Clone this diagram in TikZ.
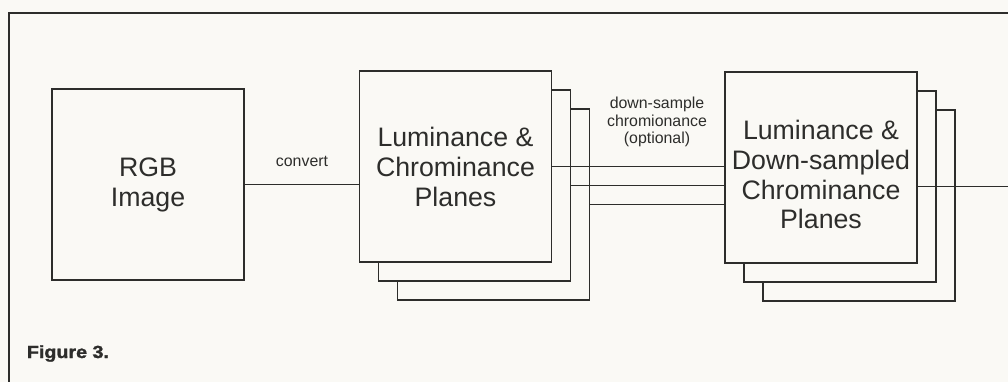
\documentclass[tikz,border=0pt]{standalone}
\usepackage{fontspec}
\setmainfont{Liberation Sans}
\newfontfamily\capfont[FakeBold=1.5]{Liberation Sans Bold}
\usetikzlibrary{calc}
\definecolor{paper}{RGB}{250,249,245}
\definecolor{ink}{RGB}{45,45,43}
\newcommand\planefont{\fontsize{19}{21.3}\selectfont}
\newcommand\labelfont{\fontsize{11.3}{12.6}\selectfont}

\begin{document}
\begin{tikzpicture}[x=0.025cm,y=-0.025cm,line width=1.3pt,draw=ink,
  plane/.style={draw=ink,fill=paper,minimum width=4.8cm,minimum height=4.78cm,
    inner sep=0pt,align=center,font=\planefont,text=ink},
  note/.style={align=center,font=\labelfont,text=ink}]
  \fill[paper] (0,0) rectangle (1008,382);
  \useasboundingbox (0,0) rectangle (1008,382);
  \draw[line width=1.5pt] (9,382) -- (9,13) -- (1008,13);
  % source image
  \node[plane] (rgb) at (148,184.5) {RGB\\Image};
  % stacked planes
  \node[plane] (lcC) at (493.5,204.5) {};
  \node[plane] (lcB) at (474.5,185.5) {};
  \node[plane] (lcA) at (455.5,166.5) {Luminance \&\\Chrominance\\Planes};
  \node[plane] (dsC) at (859,205.5) {};
  \node[plane] (dsB) at (840,186.5) {};
  \node[plane] (dsA) at (821,167.5) {};
  \node[note,font=\planefont] (dsText) at ($(dsA.center)+(0,7)$)
    {Luminance \&\\Down-sampled\\Chrominance\\Planes};
  \coordinate (out) at (1008,186.5);
  % connectors
  \draw (rgb.east) -- (rgb.east -| lcA.west);
  \draw (lcA.east) -- (lcA.east -| dsA.west);
  \draw (lcB.east) -- (lcB.east -| dsA.west);
  \draw (lcC.east) -- (lcC.east -| dsA.west);
  \draw (dsA.east |- out) -- (out);
  \node[note] (conv) at (302,161) {convert};
  \node[note] (down) at (657,122) {down-sample\\chromionance\\(optional)};
  \node[anchor=base west,inner sep=0pt,text=ink,font=\fontsize{12.5}{14}\capfont] (cap) at (26,358)
    {\scalebox{1.12}[1]{Figure 3.}};
\end{tikzpicture}
\end{document}
